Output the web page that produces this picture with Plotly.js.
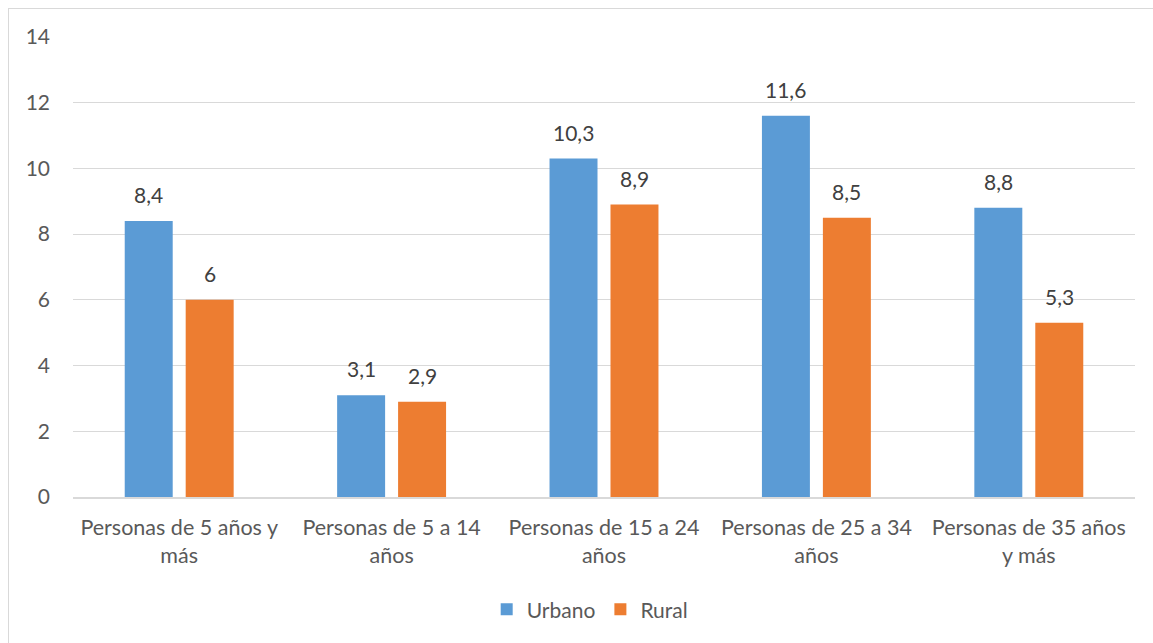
<!DOCTYPE html>
<html><head><meta charset="utf-8">
<script src="https://cdn.plot.ly/plotly-3.0.1.min.js"></script>
<style>
html,body{margin:0;padding:0;background:#fff;overflow:hidden;}
#frame{position:absolute;left:8px;top:8px;width:1200px;height:700px;border:1px solid #d9d9d9;box-sizing:border-box;}
#chart{position:absolute;left:0;top:0;width:1153px;height:643px;}
</style></head>
<body>
<div id="frame"></div>
<div id="chart"></div>
<script>
const categories = ["Personas de 5 años y<br>más","Personas de 5 a 14<br>años","Personas de 15 a 24<br>años","Personas de 25 a 34<br>años","Personas de 35 años<br>y más"];
const urbano = [8.4, 3.1, 10.3, 11.6, 8.8];
const rural = [6, 2.9, 8.9, 8.5, 5.3];
const seriesNames = ["Urbano","Rural"];
const yTicks = [0,2,4,6,8,10,12,14];

const fmt = v => String(v).replace('.', ',');
const FONT = "Lato, 'Open Sans', sans-serif";
const TXT = "#595959";

const traces = [
  {type:'bar', name:seriesNames[0], x:categories, y:urbano, marker:{color:'#5B9BD5'}, hoverinfo:'y'},
  {type:'bar', name:seriesNames[1], x:categories, y:rural, marker:{color:'#ED7D31'}, hoverinfo:'y'}
];

const annotations = [];
[urbano, rural].forEach((arr, s) => {
  arr.forEach((v, i) => {
    annotations.push({x:categories[i], y:v, xref:'x', yref:'y', text:fmt(v), showarrow:false,
      xanchor:'center', yanchor:'bottom', xshift: s===0 ? -30.5 : 30.5, yshift:12,
      font:{family:FONT, size:21, color:'#404040'}});
  });
});

const layout = {
  width:1153, height:643,
  margin:{l:73, r:18, t:37, b:146},
  paper_bgcolor:'rgba(0,0,0,0)', plot_bgcolor:'rgba(0,0,0,0)',
  barmode:'group', bargap:0.426, bargroupgap:0.213,
  font:{family:FONT, color:TXT},
  xaxis:{type:'category', showgrid:false, showline:true, linecolor:'#d9d9d9', linewidth:2,
    ticks:'', tickfont:{family:FONT, size:21.5, color:TXT}, ticklabelstandoff:10, fixedrange:true},
  yaxis:{range:[0,14], tickvals:yTicks, ticktext:yTicks.map(String), showgrid:true, gridcolor:'#d9d9d9', gridwidth:1,
    zeroline:false, showline:false, ticks:'', tickfont:{family:FONT, size:21, color:TXT}, ticklabelstandoff:22, fixedrange:true},
  showlegend:true,
  legend:{orientation:'h', x:0.487, xanchor:'center', y:-0.245, yanchor:'middle',
    font:{family:FONT, size:21, color:TXT}, itemwidth:30, traceorder:'normal'},
  annotations: annotations
};

Plotly.newPlot('chart', traces, layout, {displayModeBar:false, staticPlot:true});
</script>
</body></html>
